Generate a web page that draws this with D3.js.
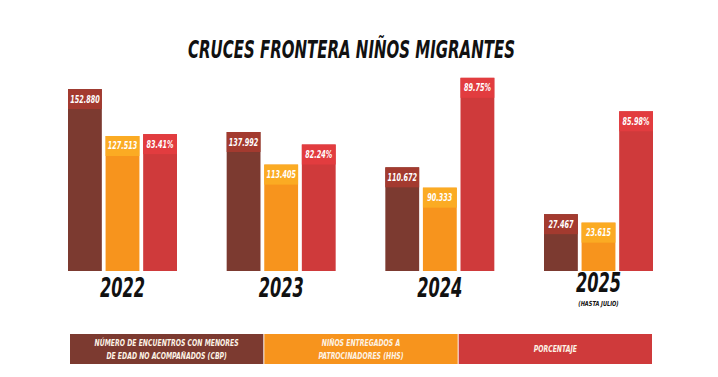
<!DOCTYPE html>
<html><head><meta charset="utf-8">
<script src="https://cdn.jsdelivr.net/npm/d3@7"></script>
<style>
html,body{margin:0;padding:0;background:#fff;}
svg{display:block;}
text{font-family:"Liberation Sans Narrow","DejaVu Sans Condensed","Roboto Condensed","DejaVu Sans",sans-serif;font-stretch:condensed;}
</style></head>
<body>
<svg id="chart" width="718" height="377"></svg>
<script>
// ---- data ----
const title = "CRUCES FRONTERA NIÑOS MIGRANTES";
const years = ["2022", "2023", "2024", "2025"];
const yearNotes = ["", "", "", "(HASTA JULIO)"];
const encuentros = [152880, 137992, 110672, 27467];
const entregados = [127513, 113405, 90333, 23615];
const porcentaje = [83.41, 82.24, 89.75, 85.98];
const seriesKeys = ["encuentros", "entregados", "porcentaje"];
const legendLines = [
  ["NÚMERO DE ENCUENTROS CON MENORES", "DE EDAD NO ACOMPAÑADOS (CBP)"],
  ["NIÑOS ENTREGADOS A", "PATROCINADORES (HHS)"],
  ["PORCENTAJE"]
];

// ---- styles ----
const bodyColor = {encuentros:"#7c3a30", entregados:"#f7941d", porcentaje:"#cf3a3b"};
const headColor = {encuentros:"#a33a2f", entregados:"#fbab23", porcentaje:"#e23c3f"};
const legendColor = ["#7c3a30", "#f7941d", "#cf3a3b"];

const svg = d3.select("#chart");
const baseline = 271;
const headH = 20;
const condense = 0.72;

function squeeze(sel, k) {
  sel.each(function() {
    const len = this.getComputedTextLength();
    d3.select(this).attr("textLength", len * k).attr("lengthAdjust", "spacingAndGlyphs");
  });
}

// scales
const x = d3.scalePoint().domain(years).range([122.5, 598.5]);
const xInner = d3.scaleBand().domain(seriesKeys).range([-54.5, 54.5]).paddingInner(0.1);
// the artwork's bar heights are not strictly proportional; a piecewise scale follows it
const yCount = d3.scaleLinear()
  .domain([23000, 28000, 90000, 115000, 127500, 138000, 155000])
  .range([47, 58, 83, 108, 135, 139, 188].map(h => baseline - h));
const yPct = d3.scaleLinear().domain([68, 90]).range([baseline, baseline - 195.4]);

const fmtCount = v => d3.format(",")(v).replace(/,/g, ".");
const fmtPct = v => d3.format(".2f")(v) + "%";

// title
svg.append("text")
  .attr("x", 351.5).attr("y", 58)
  .attr("text-anchor", "middle")
  .attr("textLength", 327).attr("lengthAdjust", "spacingAndGlyphs")
  .style("font-size", "25px").style("font-weight", "bold").style("font-style", "italic")
  .attr("fill", "#111")
  .text(title);

// bars
const rows = years.map((y, i) => ({
  year: y, note: yearNotes[i],
  items: [
    {key:"encuentros", top: yCount(encuentros[i]), label: fmtCount(encuentros[i])},
    {key:"entregados", top: yCount(entregados[i]), label: fmtCount(entregados[i])},
    {key:"porcentaje", top: yPct(porcentaje[i]), label: fmtPct(porcentaje[i])}
  ]
}));

const g = svg.selectAll("g.year").data(rows).join("g")
  .attr("class", "year")
  .attr("transform", d => `translate(${x(d.year)},0)`);

const bar = g.selectAll("g.bar").data(d => d.items).join("g").attr("class", "bar");
bar.append("rect")
  .attr("x", d => xInner(d.key)).attr("width", xInner.bandwidth())
  .attr("y", d => d.top).attr("height", d => baseline - d.top)
  .attr("fill", d => bodyColor[d.key]);
bar.append("rect")
  .attr("x", d => xInner(d.key)).attr("width", xInner.bandwidth())
  .attr("y", d => d.top).attr("height", headH)
  .attr("fill", d => headColor[d.key]);
bar.append("text")
  .attr("x", d => xInner(d.key) + xInner.bandwidth() / 2)
  .attr("y", d => d.top + 13.5)
  .attr("text-anchor", "middle")
  .style("font-size", "10px").style("font-weight", "bold").style("font-style", "italic")
  .attr("fill", "#fff")
  .text(d => d.label)
  .call(squeeze, condense);

// year labels (a year with a note sits a little higher to leave room for it)
g.append("text")
  .attr("x", 0).attr("y", d => d.note ? 292 : 297)
  .attr("text-anchor", "middle")
  .attr("textLength", 45).attr("lengthAdjust", "spacingAndGlyphs")
  .style("font-size", "27px").style("font-weight", "bold").style("font-style", "italic")
  .attr("fill", "#111")
  .text(d => d.year);
g.filter(d => d.note !== "").append("text")
  .attr("x", 0).attr("y", 305.5)
  .attr("text-anchor", "middle")
  .style("font-size", "7px").style("font-weight", "bold").style("font-style", "italic")
  .attr("fill", "#111")
  .text(d => d.note)
  .call(squeeze, 0.8);

// legend
const lx = d3.scaleBand().domain(d3.range(legendLines.length)).range([70, 652]).paddingInner(0.005);
const lg = svg.selectAll("g.leg").data(legendLines).join("g").attr("class", "leg");
lg.append("rect")
  .attr("x", (d, i) => lx(i)).attr("width", lx.bandwidth())
  .attr("y", 334).attr("height", 30)
  .attr("fill", (d, i) => legendColor[i]);
lg.each(function(lines, i) {
  const cy = 349, lh = 12.5;
  d3.select(this).selectAll("text").data(lines).join("text")
    .attr("text-anchor", "middle")
    .attr("x", lx(i) + lx.bandwidth() / 2)
    .attr("y", (ln, j) => cy + (j - (lines.length - 1) / 2) * lh + 3.3)
    .style("font-size", "9.5px").style("font-weight", "bold").style("font-style", "italic")
    .attr("fill", "#fdf3e6")
    .text(ln => ln)
    .call(squeeze, condense);
});
</script>
</body></html>
